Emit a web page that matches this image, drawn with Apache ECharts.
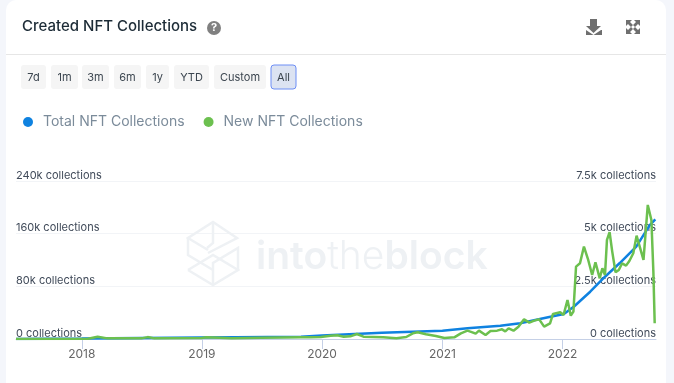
<!DOCTYPE html>
<html>
<head>
<meta charset="utf-8">
<title>Created NFT Collections</title>
<script src="https://cdn.jsdelivr.net/npm/echarts@6/dist/echarts.min.js"></script>
<style>
html, body { margin: 0; padding: 0; background: #f4f6fb; }
#chart { width: 674px; height: 383px; }
</style>
</head>
<body>
<div id="chart"></div>
<script>
var seriesNames = ['Total NFT Collections', 'New NFT Collections'];
var rangeLabels = ['7d', '1m', '3m', '6m', '1y', 'YTD', 'Custom', 'All'];
var leftTicks = [0, 80000, 160000, 240000];
var rightTicks = [0, 2500, 5000, 7500];

var totalDates = ['2017-06-15', '2018-01-01', '2019-01-01', '2019-10-29', '2020-01-01', '2020-07-01', '2021-01-01', '2021-03-18', '2021-06-26', '2021-08-25', '2021-11-18', '2022-01-05', '2022-02-04', '2022-03-26', '2022-05-10', '2022-06-24', '2022-08-13', '2022-09-23', '2022-10-10'];
var totalValues = [0, 600, 2300, 3500, 5300, 9500, 12600, 16200, 20200, 23800, 33000, 38000, 49000, 71800, 94600, 115400, 140200, 173000, 181800];

var newDates = ['2017-06-15', '2018-01-20', '2018-02-18', '2018-03-20', '2018-07-01', '2018-07-20', '2018-08-10', '2019-01-01', '2019-01-15', '2019-04-01', '2019-07-01', '2019-10-29', '2019-11-28', '2019-12-28', '2020-01-27', '2020-02-16', '2020-03-07', '2020-03-27', '2020-04-16', '2020-05-06', '2020-06-05', '2020-07-05', '2020-08-14', '2020-09-13', '2020-10-03', '2020-10-18', '2020-11-12', '2020-12-12', '2021-01-07', '2021-02-06', '2021-02-26', '2021-03-18', '2021-04-02', '2021-04-12', '2021-04-22', '2021-05-12', '2021-05-27', '2021-06-16', '2021-07-01', '2021-07-11', '2021-07-21', '2021-08-05', '2021-08-20', '2021-09-06', '2021-09-22', '2021-10-07', '2021-10-22', '2021-11-06', '2021-11-24', '2021-12-03', '2021-12-25', '2022-01-04', '2022-01-16', '2022-01-26', '2022-02-03', '2022-02-11', '2022-02-23', '2022-03-07', '2022-03-20', '2022-04-01', '2022-04-11', '2022-04-24', '2022-05-02', '2022-05-10', '2022-05-16', '2022-05-24', '2022-06-01', '2022-06-11', '2022-06-21', '2022-07-01', '2022-07-13', '2022-07-23', '2022-08-04', '2022-08-14', '2022-08-22', '2022-09-04', '2022-09-17', '2022-09-28', '2022-10-04', '2022-10-08'];
var newValues = [0, 10, 110, 30, 30, 90, 30, 50, 80, 40, 60, 79, 79, 95, 158, 174, 111, 127, 237, 111, 95, 79, 32, 95, 269, 317, 222, 142, 47, 79, 269, 396, 317, 253, 396, 190, 380, 396, 459, 364, 507, 396, 586, 934, 776, 871, 934, 586, 744, 1187, 1266, 1140, 1852, 1108, 1298, 3435, 3593, 4385, 3752, 3039, 3641, 2881, 3356, 3039, 4702, 5066, 4148, 3166, 3277, 3593, 3483, 3704, 4068, 4907, 4464, 3752, 6364, 5651, 3198, 744];

function zip(dates, values) {
  var out = [];
  for (var i = 0; i < dates.length; ++i) {
    out.push([dates[i], values[i]]);
  }
  return out;
}

function shortNum(v) {
  if (v >= 1000) {
    return (v / 1000) + 'k collections';
  }
  return v + ' collections';
}

function iconPoly(points) {
  return { type: 'polygon', z: 1, shape: { points: points }, style: { fill: '#6f6f6f' } };
}

function logoLine(points) {
  return { type: 'polyline', z: 1, shape: { points: points }, style: { stroke: '#eef1f4', lineWidth: 2.5, fill: null } };
}

var fontName = 'Inter, "Noto Sans", sans-serif';
var buttonBoxes = [[21, 25], [51, 27], [82, 27], [114, 27], [146, 23], [174, 35], [214, 52], [271, 25]];

var chrome = [
  // card
  { type: 'rect', z: 0, shape: { x: 6, y: 0, width: 660, height: 383, r: [10, 10, 0, 0] }, style: { fill: '#ffffff' } },
  { type: 'line', z: 1, shape: { x1: 6, y1: 54.5, x2: 666, y2: 54.5 }, style: { stroke: '#e6e6e6', lineWidth: 1 } },
  { type: 'text', z: 1, x: 22, y: 26, style: { text: 'Created NFT Collections', fill: '#1c2b36', font: '500 15px ' + fontName, textVerticalAlign: 'middle' } },
  // help icon
  { type: 'circle', z: 1, shape: { cx: 214, cy: 28, r: 7 }, style: { fill: '#808080' } },
  { type: 'text', z: 2, x: 214, y: 28, style: { text: '?', fill: '#ffffff', font: '700 11px ' + fontName, textAlign: 'center', textVerticalAlign: 'middle' } },
  // download icon
  iconPoly([[590, 19], [597, 19], [597, 26], [601, 26], [593.5, 33], [586, 26], [590, 26]]),
  iconPoly([[586, 30], [593.5, 35], [601, 30], [602, 30], [602, 35], [586, 35]]),
  // expand icon
  iconPoly([[626, 20], [632, 20], [630, 22], [633, 25], [631, 27], [628, 24], [626, 26]]),
  iconPoly([[640, 20], [640, 26], [638, 24], [635, 27], [633, 25], [636, 22], [634, 20]]),
  iconPoly([[626, 34], [626, 28], [628, 30], [631, 27], [633, 29], [630, 32], [632, 34]]),
  iconPoly([[640, 34], [634, 34], [636, 32], [633, 29], [635, 27], [638, 30], [640, 28]]),
  // watermark
  logoLine([[208, 253], [237, 238], [213, 222], [188, 238], [208, 250]]),
  logoLine([[188, 238], [188, 255], [213, 270]]),
  logoLine([[213, 222], [213, 243], [207, 248]]),
  logoLine([[188, 270], [213, 255], [238, 270], [213, 285], [188, 270]]),
  logoLine([[238, 270], [238, 248], [213, 263], [213, 285]]),
  { type: 'text', z: 1, x: 256, y: 257, style: { rich: { a: { font: '600 39px ' + fontName, fill: '#eef1f4' }, b: { font: '300 39px ' + fontName, fill: '#eef1f4' } }, text: '{a|into}{b|the}{a|block}', textVerticalAlign: 'middle' } }
];

for (var i = 0; i < rangeLabels.length; ++i) {
  var isAll = rangeLabels[i] == 'All';
  chrome.push({
    type: 'rect', z: 1,
    shape: { x: buttonBoxes[i][0], y: 65, width: buttonBoxes[i][1], height: 24, r: 3 },
    style: { fill: isAll ? '#dce3f2' : '#f5f5f5', stroke: isAll ? '#6d8ef5' : null, lineWidth: 1 }
  });
  chrome.push({
    type: 'text', z: 2,
    x: buttonBoxes[i][0] + buttonBoxes[i][1] / 2, y: 78,
    style: { text: rangeLabels[i], fill: '#3c4650', font: '11px ' + fontName, textAlign: 'center', textVerticalAlign: 'middle' }
  });
}

var myChart = echarts.init(document.getElementById('chart'));
var option = {
  animation: false,
  backgroundColor: '#f4f6fb',
  textStyle: { fontFamily: fontName },
  graphic: { elements: chrome },
  legend: {
    left: 18,
    top: 110,
    icon: 'circle',
    itemWidth: 10,
    itemHeight: 10,
    itemGap: 19,
    data: seriesNames,
    textStyle: { color: '#7b8b9a', fontSize: 14, fontFamily: fontName, padding: [0, 0, 0, 5] }
  },
  grid: { left: 16, right: 18, top: 181, bottom: 44 },
  xAxis: {
    type: 'time',
    min: '2017-06-15',
    max: '2022-10-12',
    minInterval: 365 * 24 * 3600 * 1000,
    axisLine: { lineStyle: { color: '#c5d0e6' } },
    axisTick: { length: 10, lineStyle: { color: '#c5d0e6' } },
    splitLine: { show: false },
    axisLabel: {
      color: '#666666',
      fontSize: 12,
      margin: 9,
      showMinLabel: false,
      showMaxLabel: false,
      formatter: '{yyyy}'
    }
  },
  yAxis: [{
    type: 'value',
    min: leftTicks[0],
    max: leftTicks[3],
    interval: leftTicks[1],
    position: 'left',
    axisLine: { show: false },
    axisTick: { show: false },
    splitLine: { lineStyle: { color: '#f2f4f7' } },
    axisLabel: { inside: true, margin: 0, verticalAlign: 'bottom', color: '#414b5a', fontSize: 11, lineHeight: 11, formatter: shortNum }
  }, {
    type: 'value',
    min: rightTicks[0],
    max: rightTicks[3],
    interval: rightTicks[1],
    position: 'right',
    axisLine: { show: false },
    axisTick: { show: false },
    splitLine: { show: false },
    axisLabel: { inside: true, margin: 0, verticalAlign: 'bottom', color: '#414b5a', fontSize: 11, lineHeight: 11, formatter: shortNum }
  }],
  series: [{
    name: seriesNames[0],
    type: 'line',
    yAxisIndex: 0,
    showSymbol: false,
    lineStyle: { color: '#0f82e0', width: 2.5 },
    itemStyle: { color: '#0f82e0' },
    data: zip(totalDates, totalValues)
  }, {
    name: seriesNames[1],
    type: 'line',
    yAxisIndex: 1,
    showSymbol: false,
    lineStyle: { color: '#6cc04f', width: 2.5 },
    itemStyle: { color: '#6cc04f' },
    data: zip(newDates, newValues)
  }]
};
myChart.setOption(option);
</script>
</body>
</html>
